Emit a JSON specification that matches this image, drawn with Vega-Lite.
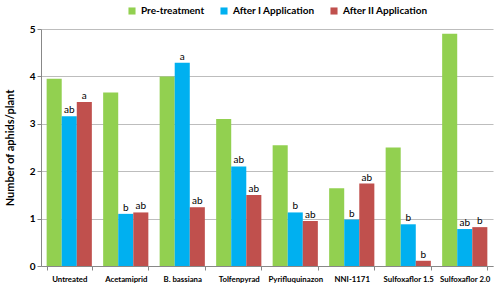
{
  "$schema": "https://vega.github.io/schema/vega-lite/v6.json",
  "width": 452,
  "height": 237,
  "autosize": "none",
  "padding": {"left": 41, "top": 29, "right": 7, "bottom": 21},
  "background": "white",
  "config": {
    "font": "Lato",
    "view": {"stroke": null},
    "axis": {"labelFont": "Lato", "titleFont": "Lato"}
  },
  "data": {
    "values": [
      {"cat": "Untreated", "series": "Pre-treatment", "value": 3.95, "label": ""},
      {"cat": "Untreated", "series": "After I Application", "value": 3.16, "label": "ab"},
      {"cat": "Untreated", "series": "After II Application", "value": 3.46, "label": "a"},
      {"cat": "Acetamiprid", "series": "Pre-treatment", "value": 3.66, "label": ""},
      {"cat": "Acetamiprid", "series": "After I Application", "value": 1.1, "label": "b"},
      {"cat": "Acetamiprid", "series": "After II Application", "value": 1.13, "label": "ab"},
      {"cat": "B. bassiana", "series": "Pre-treatment", "value": 4.0, "label": ""},
      {"cat": "B. bassiana", "series": "After I Application", "value": 4.29, "label": "a"},
      {"cat": "B. bassiana", "series": "After II Application", "value": 1.24, "label": "ab"},
      {"cat": "Tolfenpyrad", "series": "Pre-treatment", "value": 3.1, "label": ""},
      {"cat": "Tolfenpyrad", "series": "After I Application", "value": 2.1, "label": "ab"},
      {"cat": "Tolfenpyrad", "series": "After II Application", "value": 1.5, "label": "ab"},
      {"cat": "Pyrifluquinazon", "series": "Pre-treatment", "value": 2.55, "label": ""},
      {"cat": "Pyrifluquinazon", "series": "After I Application", "value": 1.13, "label": "b"},
      {"cat": "Pyrifluquinazon", "series": "After II Application", "value": 0.95, "label": "ab"},
      {"cat": "NNI-1171", "series": "Pre-treatment", "value": 1.64, "label": ""},
      {"cat": "NNI-1171", "series": "After I Application", "value": 0.98, "label": "b"},
      {"cat": "NNI-1171", "series": "After II Application", "value": 1.74, "label": "ab"},
      {"cat": "Sulfoxaflor 1.5", "series": "Pre-treatment", "value": 2.5, "label": ""},
      {"cat": "Sulfoxaflor 1.5", "series": "After I Application", "value": 0.88, "label": "b"},
      {"cat": "Sulfoxaflor 1.5", "series": "After II Application", "value": 0.11, "label": "b"},
      {"cat": "Sulfoxaflor 2.0", "series": "Pre-treatment", "value": 4.9, "label": ""},
      {"cat": "Sulfoxaflor 2.0", "series": "After I Application", "value": 0.78, "label": "ab"},
      {"cat": "Sulfoxaflor 2.0", "series": "After II Application", "value": 0.82, "label": "b"}
    ]
  },
  "encoding": {
    "x": {
      "field": "cat", "type": "nominal", "sort": null,
      "scale": {"paddingInner": 0.2, "paddingOuter": 0.1},
      "axis": {
        "title": null, "labelAngle": 0, "labelFontSize": 7.8, "labelFontWeight": "bold",
        "labelColor": "#000", "domainColor": "#888", "tickColor": "#888", "tickBand": "extent",
        "tickSize": 4, "labelPadding": 5, "grid": false
      }
    },
    "xOffset": {
      "field": "series", "type": "nominal", "sort": ["Pre-treatment", "After I Application", "After II Application"],
      "scale": {"paddingInner": 0, "paddingOuter": 0}
    },
    "y": {
      "field": "value", "type": "quantitative",
      "scale": {"domain": [0, 5], "nice": false},
      "axis": {
        "title": "Number of aphids/plant", "titleFontSize": 11, "titleFontWeight": "bold",
        "titleColor": "#000", "titlePadding": 14,
        "values": [0, 1, 2, 3, 4, 5], "format": "d", "labelFontSize": 10, "labelFontWeight": "bold",
        "labelColor": "#000", "domainColor": "#888", "tickColor": "#888", "tickSize": 4,
        "gridColor": "#BDBDBD", "gridWidth": 1
      }
    }
  },
  "layer": [
    {
      "mark": {"type": "bar"},
      "encoding": {
        "color": {
          "field": "series", "type": "nominal",
          "sort": ["Pre-treatment", "After I Application", "After II Application"],
          "scale": {"domain": ["Pre-treatment", "After I Application", "After II Application"], "range": ["#92D050", "#00B0F0", "#C0504D"]},
          "legend": {
            "title": null, "orient": "none", "direction": "horizontal", "legendX": 86, "legendY": -23,
            "symbolType": "square", "symbolSize": 50, "symbolStrokeWidth": 0,
            "labelFontSize": 10, "labelFontWeight": "bold", "labelColor": "#000", "columnPadding": 14
          }
        }
      }
    },
    {
      "mark": {"type": "text", "baseline": "bottom", "dy": -1, "fontSize": 10, "color": "#000"},
      "encoding": {"text": {"field": "label"}}
    }
  ]
}
